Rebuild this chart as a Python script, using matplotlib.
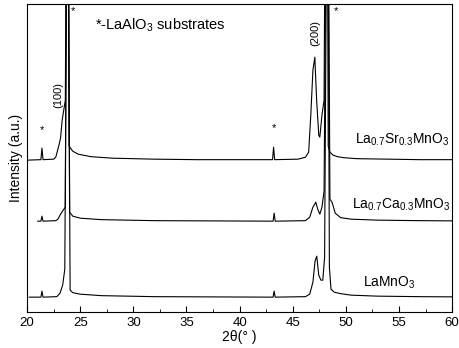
import numpy as np
import matplotlib.pyplot as plt
from matplotlib.ticker import MultipleLocator

plt.rcParams['font.family'] = ['Liberation Sans', 'DejaVu Sans']
plt.rcParams['mathtext.fontset'] = 'custom'
plt.rcParams['mathtext.rm'] = 'Liberation Sans'

# XRD patterns (2theta in deg, intensity above each baseline, a.u.)
# 400 = LaAlO3 substrate peak, runs off the top of the frame
lsmo_2t = [20.0, 21.3, 21.4, 21.5, 22.5, 22.7, 23.0, 23.15, 23.3, 23.45, 23.6, 23.76, 23.86, 23.95, 24.3,
           24.8, 26.0, 28.0, 32.0, 36.0, 43.1, 43.2, 43.3, 45.5, 46.2, 46.5, 46.7, 46.9, 47.08, 47.25,
           47.45, 47.55, 47.75, 47.95, 48.12, 48.22, 48.34, 48.5, 48.8, 49.2, 49.8, 51.0, 54.0, 57.0, 60.0]
lsmo_I = [0, 0.5, 12, 0.5, 1, 3, 15, 22, 40, 50, 60, 400, 400, 14, 9,
          6, 3.5, 2, 1, 0.5, 0.5, 13, 0.5, 1, 3, 8, 45, 90, 103, 60,
          25, 23, 45, 60, 400, 400, 14, 8, 5, 3.5, 2.5, 1.5, 1, 0.5, 0.5]

lcmo_2t = [21.0, 21.3, 21.4, 21.5, 22.7, 22.9, 23.15, 23.4, 23.6, 23.76, 23.86, 24.0, 24.3, 25.0, 27.0,
           32.0, 43.15, 43.25, 43.35, 46.2, 46.6, 46.9, 47.17, 47.35, 47.55, 47.75, 47.95, 48.2, 48.32,
           48.5, 48.7, 49.0, 49.5, 50.5, 53.0, 57.0, 60.0]
lcmo_I = [0, 0, 5, 0, 0.5, 2, 7, 11, 14, 400, 400, 9, 5, 3, 1.5,
          0.5, 0, 8, 0, 0.5, 4, 14, 19, 12, 7, 14, 30, 400, 400,
          22, 19, 8, 3.5, 2, 1, 0.5, 0.3]

lmo_2t = [20.2, 21.3, 21.4, 21.5, 22.8, 23.1, 23.35, 23.55, 23.76, 23.86, 24.05, 24.3, 25.0, 27.0, 32.0,
          43.15, 43.25, 43.35, 46.2, 46.6, 46.9, 47.1, 47.26, 47.45, 47.65, 47.83, 48.0, 48.2, 48.32,
          48.45, 48.6, 48.9, 49.5, 50.5, 53.0, 57.0, 60.0]
lmo_I = [0, 0, 6, 0, 0.5, 4, 12, 28, 400, 400, 7, 4.5, 3, 1.5, 0.5,
         0, 6, 0, 0.5, 3, 15, 36, 41, 22, 17, 17, 40, 400, 400,
         30, 8, 5, 3.5, 2, 1, 0.5, 0.3]

offsets = [152, 91, 15]
labels = ['La$_{0.7}$Sr$_{0.3}$MnO$_3$', 'La$_{0.7}$Ca$_{0.3}$MnO$_3$', 'LaMnO$_3$']
label_pos = [(59.8, 172), (59.8, 107), (56.6, 29)]

fig = plt.figure(figsize=(4.59, 3.48), dpi=100)
ax = fig.add_axes([0.059, 0.103, 0.926, 0.885])

patterns = [(lsmo_2t, lsmo_I), (lcmo_2t, lcmo_I), (lmo_2t, lmo_I)]
for (tt, ii), off in zip(patterns, offsets):
    ax.plot(tt, np.array(ii) + off, color='k', lw=0.8)

for (xl, yl), lab in zip(label_pos, labels):
    ax.text(xl, yl, lab, ha='right', va='center', fontsize=10)

ax.text(26.4, 287, '*-LaAlO$_3$ substrates', fontsize=10.5, va='center')
ax.text(22.9, 217, '(100)', rotation=90, ha='center', va='center', fontsize=8)
ax.text(47.1, 279, '(200)', rotation=90, ha='center', va='center', fontsize=8)
for sx, sy in [(21.4, 182), (24.3, 301), (43.2, 184), (49.05, 301)]:
    ax.text(sx, sy, '*', ha='center', va='center', fontsize=8)

ax.set_xlim(20, 60)
ax.set_ylim(0, 308)
ax.xaxis.set_major_locator(MultipleLocator(5))
ax.xaxis.set_minor_locator(MultipleLocator(2.5))
ax.tick_params(axis='x', which='both', direction='in', labelsize=9.5)
ax.tick_params(axis='x', which='major', length=4)
ax.tick_params(axis='x', which='minor', length=2)
ax.set_yticks([])
ax.set_xlabel('2θ(° )', fontsize=10, labelpad=1)
ax.set_ylabel('Intensity (a.u.)', fontsize=10, labelpad=3)

plt.savefig('out.png', dpi=100)
